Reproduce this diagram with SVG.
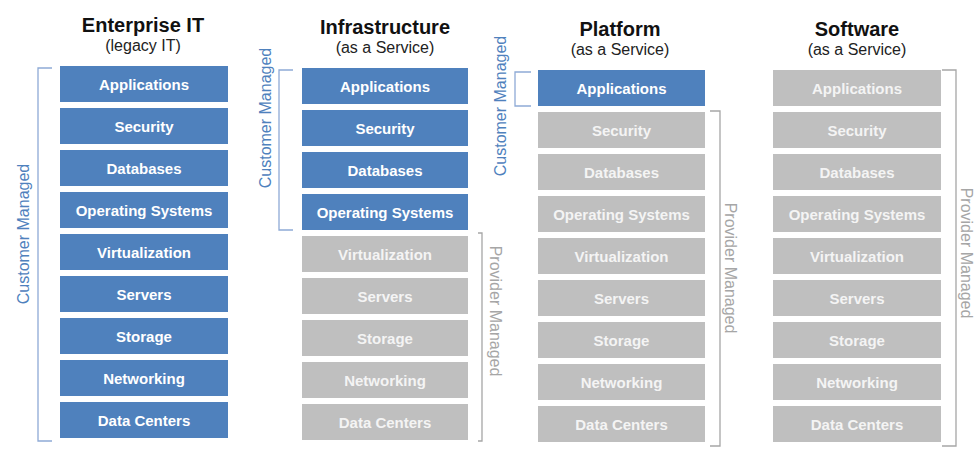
<svg xmlns="http://www.w3.org/2000/svg" width="979" height="456" viewBox="0 0 979 456">
<style>
.h{font-family:"Liberation Sans",Arial,sans-serif;font-weight:bold;font-size:20px;fill:#111;text-anchor:middle}
.s{font-family:"Liberation Sans",Arial,sans-serif;font-size:16px;fill:#222;text-anchor:middle}
.b rect{fill:#4f81bd}
.g rect{fill:#bfbfbf}
.b text,.g text{font-family:"Liberation Sans",Arial,sans-serif;font-weight:bold;font-size:15px;text-anchor:middle}
.b text{fill:#fff}
.g text{fill:#f4f4f4}
.cb{fill:none;stroke:#8eaad6;stroke-width:1.3}
.pb{fill:none;stroke:#a6a6a6;stroke-width:1.3}
.ct{font-family:"Liberation Sans",Arial,sans-serif;font-size:16px;fill:#4f81bd;text-anchor:middle}
.pt{font-family:"Liberation Sans",Arial,sans-serif;font-size:16px;fill:#a6a6a6;text-anchor:middle}
</style>
<g id="headers">
<text class="h" x="143" y="32">Enterprise IT</text>
<text class="s" x="143" y="51">(legacy IT)</text>
<text class="h" x="385" y="34">Infrastructure</text>
<text class="s" x="385" y="53">(as a Service)</text>
<text class="h" x="620" y="36">Platform</text>
<text class="s" x="620" y="55">(as a Service)</text>
<text class="h" x="857" y="36">Software</text>
<text class="s" x="857" y="55">(as a Service)</text>
</g>
<g id="enterprise">
<g id="e1" class="b"><rect x="60" y="66" width="168" height="36"/><text x="144" y="89.5">Applications</text></g>
<g id="e2" class="b"><rect x="60" y="108" width="168" height="36"/><text x="144" y="131.5">Security</text></g>
<g id="e3" class="b"><rect x="60" y="150" width="168" height="36"/><text x="144" y="173.5">Databases</text></g>
<g id="e4" class="b"><rect x="60" y="192" width="168" height="36"/><text x="144" y="215.5">Operating Systems</text></g>
<g id="e5" class="b"><rect x="60" y="234" width="168" height="36"/><text x="144" y="257.5">Virtualization</text></g>
<g id="e6" class="b"><rect x="60" y="276" width="168" height="36"/><text x="144" y="299.5">Servers</text></g>
<g id="e7" class="b"><rect x="60" y="318" width="168" height="36"/><text x="144" y="341.5">Storage</text></g>
<g id="e8" class="b"><rect x="60" y="360" width="168" height="36"/><text x="144" y="383.5">Networking</text></g>
<g id="e9" class="b"><rect x="60" y="402" width="168" height="36"/><text x="144" y="425.5">Data Centers</text></g>
</g>
<g id="iaas">
<g id="i1" class="b"><rect x="302" y="68" width="166" height="36"/><text x="385" y="91.5">Applications</text></g>
<g id="i2" class="b"><rect x="302" y="110" width="166" height="36"/><text x="385" y="133.5">Security</text></g>
<g id="i3" class="b"><rect x="302" y="152" width="166" height="36"/><text x="385" y="175.5">Databases</text></g>
<g id="i4" class="b"><rect x="302" y="194" width="166" height="36"/><text x="385" y="217.5">Operating Systems</text></g>
<g id="i5" class="g"><rect x="302" y="236" width="166" height="36"/><text x="385" y="259.5">Virtualization</text></g>
<g id="i6" class="g"><rect x="302" y="278" width="166" height="36"/><text x="385" y="301.5">Servers</text></g>
<g id="i7" class="g"><rect x="302" y="320" width="166" height="36"/><text x="385" y="343.5">Storage</text></g>
<g id="i8" class="g"><rect x="302" y="362" width="166" height="36"/><text x="385" y="385.5">Networking</text></g>
<g id="i9" class="g"><rect x="302" y="404" width="166" height="36"/><text x="385" y="427.5">Data Centers</text></g>
</g>
<g id="paas">
<g id="p1" class="b"><rect x="538" y="70" width="167" height="36"/><text x="621.5" y="93.5">Applications</text></g>
<g id="p2" class="g"><rect x="538" y="112" width="167" height="36"/><text x="621.5" y="135.5">Security</text></g>
<g id="p3" class="g"><rect x="538" y="154" width="167" height="36"/><text x="621.5" y="177.5">Databases</text></g>
<g id="p4" class="g"><rect x="538" y="196" width="167" height="36"/><text x="621.5" y="219.5">Operating Systems</text></g>
<g id="p5" class="g"><rect x="538" y="238" width="167" height="36"/><text x="621.5" y="261.5">Virtualization</text></g>
<g id="p6" class="g"><rect x="538" y="280" width="167" height="36"/><text x="621.5" y="303.5">Servers</text></g>
<g id="p7" class="g"><rect x="538" y="322" width="167" height="36"/><text x="621.5" y="345.5">Storage</text></g>
<g id="p8" class="g"><rect x="538" y="364" width="167" height="36"/><text x="621.5" y="387.5">Networking</text></g>
<g id="p9" class="g"><rect x="538" y="406" width="167" height="36"/><text x="621.5" y="429.5">Data Centers</text></g>
</g>
<g id="saas">
<g id="s1" class="g"><rect x="773" y="70" width="168" height="36"/><text x="857" y="93.5">Applications</text></g>
<g id="s2" class="g"><rect x="773" y="112" width="168" height="36"/><text x="857" y="135.5">Security</text></g>
<g id="s3" class="g"><rect x="773" y="154" width="168" height="36"/><text x="857" y="177.5">Databases</text></g>
<g id="s4" class="g"><rect x="773" y="196" width="168" height="36"/><text x="857" y="219.5">Operating Systems</text></g>
<g id="s5" class="g"><rect x="773" y="238" width="168" height="36"/><text x="857" y="261.5">Virtualization</text></g>
<g id="s6" class="g"><rect x="773" y="280" width="168" height="36"/><text x="857" y="303.5">Servers</text></g>
<g id="s7" class="g"><rect x="773" y="322" width="168" height="36"/><text x="857" y="345.5">Storage</text></g>
<g id="s8" class="g"><rect x="773" y="364" width="168" height="36"/><text x="857" y="387.5">Networking</text></g>
<g id="s9" class="g"><rect x="773" y="406" width="168" height="36"/><text x="857" y="429.5">Data Centers</text></g>
</g>
<g id="brackets">
<path class="cb" d="M52 68 H38 V441 H52"/>
<path class="cb" d="M293 70 H279 V230 H293"/>
<path class="cb" d="M531 72 H515 V106 H531"/>
<path class="pb" d="M478 233 H482 V441 H478"/>
<path class="pb" d="M710 111 H720 V446 H710"/>
<path class="pb" d="M942 70 H956 V446 H942"/>
<text class="ct" transform="translate(28.5 234) rotate(-90)">Customer Managed</text>
<text class="ct" transform="translate(271 118) rotate(-90)">Customer Managed</text>
<text class="ct" transform="translate(506 106) rotate(-90)">Customer Managed</text>
<text class="pt" transform="translate(490 311) rotate(90)">Provider Managed</text>
<text class="pt" transform="translate(725 268) rotate(90)">Provider Managed</text>
<text class="pt" transform="translate(961 253) rotate(90)">Provider Managed</text>
</g>
</svg>
